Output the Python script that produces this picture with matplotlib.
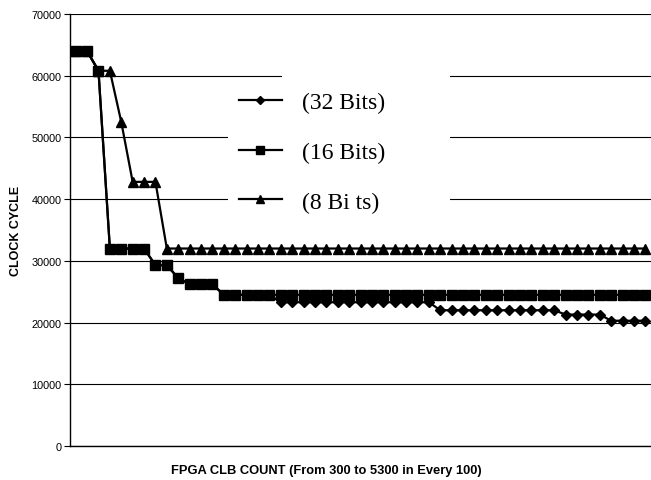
import numpy as np
import matplotlib.pyplot as plt
from matplotlib.patches import Rectangle

# x categories: CLB count 300..5300 step 100 (51 points)
clb_count = list(range(300, 5301, 100))

bits32 = ([64000, 64000, 60800] + [32000] * 4 + [29300] * 2 + [27200] + [26200] * 3
          + [24500] * 5 + [23300] * 14 + [22000] * 11 + [21300] * 4 + [20300] * 4)
bits16 = ([64000, 64000, 60800] + [32000] * 4 + [29300] * 2 + [27200] + [26200] * 3
          + [24500] * 38)
bits8 = ([64000, 64000, 60800, 60800, 52500] + [42800] * 3 + [32000] * 43)

labels = ["(32 Bits)", "(16 Bits)", "(8 Bi ts)"]
yticks = list(range(0, 70001, 10000))


def main():
    W, H = 651, 481
    fig = plt.figure(figsize=(W / 100, H / 100), dpi=100)
    ax = fig.add_axes([70 / W, 1 - 447 / H, (W - 70) / W, (447 - 15) / H])

    x = np.arange(len(clb_count))
    l1, = ax.plot(x, bits32, color="black", lw=1.6, marker="D", ms=5.5, zorder=3)
    l2, = ax.plot(x, bits16, color="black", lw=1.6, marker="s", ms=7, zorder=4)
    l3, = ax.plot(x, bits8, color="black", lw=1.6, marker="^", ms=7, zorder=5)

    ax.set_xlim(-0.5, len(clb_count) - 0.5)
    ax.set_ylim(0, 70000)
    ax.set_yticks(yticks)
    ax.set_xticks([])
    ax.yaxis.grid(True, color="black", lw=0.8)
    ax.set_axisbelow(True)

    for s in ["top", "right"]:
        ax.spines[s].set_visible(False)
    ax.spines["left"].set_linewidth(1.0)
    ax.spines["bottom"].set_linewidth(1.0)
    ax.tick_params(axis="y", direction="out", length=4, width=0.8,
                   labelsize=7.8, pad=2)
    for lab in ax.get_yticklabels():
        lab.set_fontfamily("Liberation Sans")

    ax.set_ylabel("CLOCK CYCLE", fontfamily="Liberation Sans", fontweight="bold",
                  fontsize=9, labelpad=7)
    ax.set_xlabel("FPGA CLB COUNT (From 300 to 5300 in Every 100)",
                  fontfamily="Liberation Sans", fontweight="bold", fontsize=9.3,
                  labelpad=9)
    ax.xaxis.set_label_coords((326 - 70) / (W - 70), -(465 - 447) / (447 - 15))

    # white area behind the legend hiding the grid lines
    for (x0, y0, x1, y1) in [(282, 72, 450, 225), (228, 80, 282, 225)]:
        ax.add_patch(Rectangle((x0 / W, 1 - y1 / H), (x1 - x0) / W, (y1 - y0) / H,
                               transform=fig.transFigure, facecolor="white",
                               edgecolor="none", zorder=1))

    fig.legend([l1, l2, l3], labels, loc="center",
               bbox_to_anchor=(312 / W, 1 - 153 / H), frameon=False,
               prop={"family": "Liberation Serif", "size": 17},
               handlelength=1.82, handletextpad=0.85, labelspacing=1.2,
               markerscale=0.8)

    fig.savefig("out.png", dpi=100)


main()
